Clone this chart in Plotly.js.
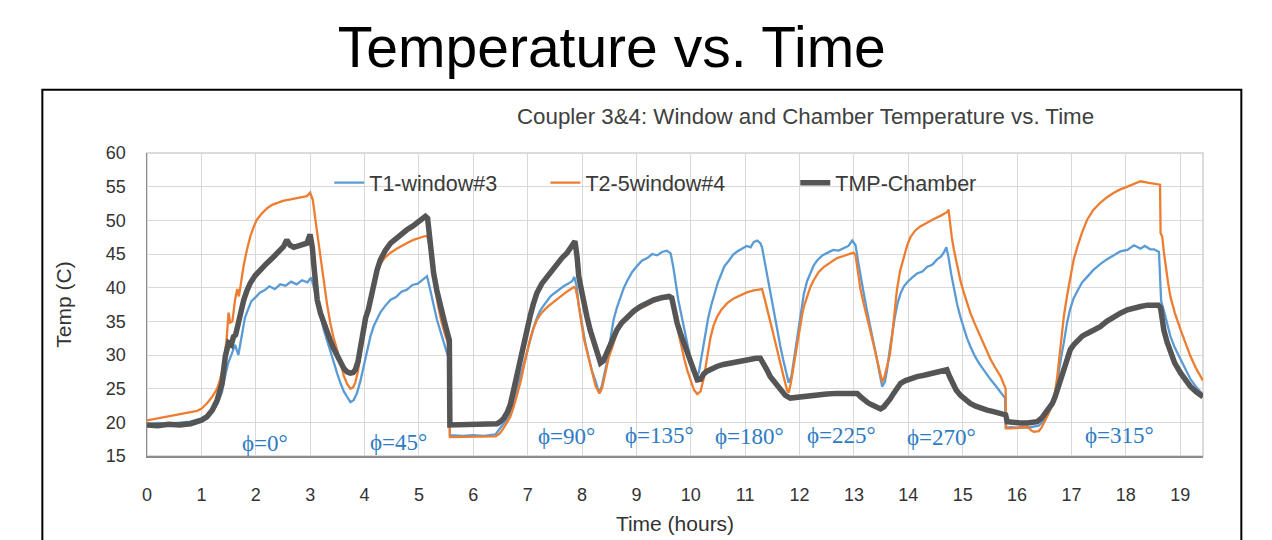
<!DOCTYPE html>
<html>
<head>
<meta charset="utf-8">
<script src="https://cdn.plot.ly/plotly-3.0.1.min.js"></script>
<style>html,body{margin:0;padding:0;background:#fff;}#chart{width:1272px;height:540px;}</style>
</head>
<body>
<div id="chart"></div>
<script>
// ---- Data ----
const seriesNames = ["T1-window#3", "T2-5window#4", "TMP-Chamber"];

const t1Time = [0,0.2,0.4,0.6,0.8,1.0,1.1,1.2,1.3,1.38,1.44,1.5,1.56,1.62,1.68,1.74,1.8,1.86,1.92,2.0,2.08,2.16,2.25,2.35,2.45,2.55,2.65,2.75,2.85,2.95,3.02,3.07,3.13,3.19,3.25,3.31,3.37,3.43,3.5,3.56,3.62,3.68,3.74,3.8,3.86,3.92,3.98,4.05,4.11,4.17,4.23,4.29,4.38,4.48,4.58,4.68,4.78,4.88,4.98,5.08,5.15,5.2,5.27,5.33,5.39,5.45,5.52,5.56,5.57,5.8,6.0,6.2,6.41,6.5,6.56,6.62,6.68,6.74,6.8,6.87,6.93,7.0,7.05,7.11,7.17,7.23,7.3,7.36,7.42,7.48,7.56,7.66,7.75,7.82,7.86,7.9,7.94,8.0,8.06,8.12,8.18,8.25,8.31,8.36,8.4,8.45,8.49,8.54,8.58,8.64,8.71,8.77,8.83,8.92,9.01,9.1,9.2,9.29,9.38,9.47,9.56,9.63,9.68,9.72,9.77,9.81,9.87,9.93,9.99,10.05,10.1,10.15,10.2,10.26,10.32,10.38,10.44,10.5,10.56,10.62,10.7,10.78,10.86,10.94,11.03,11.1,11.16,11.22,11.28,11.31,11.36,11.4,11.47,11.53,11.59,11.65,11.7,11.75,11.8,11.85,11.89,11.95,12.02,12.08,12.14,12.2,12.26,12.32,12.42,12.52,12.62,12.72,12.81,12.9,12.97,13.03,13.08,13.12,13.18,13.24,13.3,13.37,13.42,13.46,13.52,13.57,13.61,13.66,13.7,13.75,13.8,13.86,13.92,13.98,14.07,14.16,14.26,14.35,14.44,14.53,14.6,14.66,14.7,14.74,14.79,14.84,14.9,14.96,15.02,15.08,15.14,15.22,15.3,15.4,15.5,15.6,15.7,15.78,15.79,15.9,16.0,16.1,16.2,16.3,16.4,16.5,16.55,16.62,16.68,16.74,16.77,16.8,16.83,16.86,16.92,16.98,17.04,17.11,17.2,17.29,17.4,17.53,17.65,17.78,17.9,18.03,18.15,18.27,18.35,18.45,18.52,18.61,18.63,18.65,18.7,18.76,18.82,18.9,19.01,19.1,19.19,19.3,19.42];
const t1Temp = [19.7,19.9,19.8,20.0,20.1,20.6,21.0,21.5,22.8,24.5,27.0,29.0,30.2,31.5,30.0,32.8,35.5,36.8,38.0,38.6,39.3,39.6,40.2,39.8,40.5,40.3,40.9,40.5,41.1,40.8,41.5,40.0,37.8,35.7,33.8,32.2,30.5,28.8,27.2,25.8,24.6,23.8,23.0,23.3,24.3,26.0,28.0,30.8,32.8,34.3,35.4,36.3,37.3,38.2,38.6,39.4,39.7,40.4,40.6,41.2,41.7,40.0,37.2,35.3,33.7,32.0,30.2,29.4,18.1,18.0,18.1,18.0,18.2,19.2,19.8,20.4,21.5,22.9,24.8,26.9,28.9,30.8,32.6,34.1,35.5,36.6,37.4,38.1,38.7,39.1,39.6,40.2,40.6,41.0,41.6,40.2,37.4,34.3,31.8,29.7,27.7,26.1,24.5,25.3,26.8,28.6,30.8,33.2,35.2,37.0,38.7,40.0,41.0,42.3,43.2,44.0,44.4,45.0,44.8,45.3,45.5,45.1,43.0,40.7,38.2,36.6,34.2,31.8,29.6,27.8,26.5,27.5,29.8,32.7,35.5,37.5,39.2,40.8,42.0,43.2,44.0,44.9,45.4,45.8,46.2,46.0,46.8,47.0,46.6,46.0,43.8,41.7,39.0,36.5,33.8,31.2,29.3,27.5,25.9,26.8,28.9,32.6,36.4,39.1,41.0,42.3,43.3,44.0,44.8,45.2,45.6,45.5,45.9,46.2,47.0,46.3,43.8,41.7,39.2,36.6,34.3,31.8,29.5,27.8,25.3,26.0,27.8,30.8,33.0,35.5,37.6,39.2,40.2,40.8,41.5,42.1,42.4,43.1,43.4,44.2,44.6,45.3,46.0,44.5,42.0,39.7,37.5,35.6,34.0,32.5,31.3,29.9,28.8,27.6,26.5,25.5,24.5,23.6,19.2,19.3,19.2,19.3,19.2,19.3,19.5,20.3,21.0,22.0,23.3,25.5,27.6,29.3,30.5,31.8,34.8,36.9,38.4,39.5,40.8,41.6,42.6,43.5,44.2,44.8,45.4,45.6,46.3,45.8,46.2,45.7,45.7,45.3,41.0,38.0,36.6,34.6,32.8,31.1,29.3,27.7,26.4,25.2,24.1];

const t2Time = [0,0.2,0.4,0.6,0.8,0.92,1.0,1.1,1.2,1.29,1.35,1.41,1.46,1.5,1.53,1.57,1.62,1.66,1.69,1.74,1.78,1.84,1.9,1.96,2.02,2.1,2.21,2.3,2.39,2.5,2.64,2.76,2.86,2.94,3.0,3.05,3.09,3.13,3.19,3.25,3.31,3.37,3.43,3.5,3.56,3.62,3.68,3.74,3.79,3.83,3.88,3.92,3.98,4.05,4.11,4.17,4.23,4.29,4.38,4.48,4.6,4.7,4.8,4.9,5.0,5.09,5.15,5.2,5.25,5.3,5.36,5.42,5.49,5.56,5.57,5.8,6.0,6.2,6.41,6.48,6.53,6.6,6.68,6.74,6.8,6.87,6.93,6.99,7.05,7.11,7.17,7.26,7.36,7.48,7.6,7.72,7.85,7.88,7.92,7.97,8.03,8.09,8.15,8.2,8.25,8.32,8.37,8.4,8.45,8.49,8.55,8.64,8.73,8.83,8.95,9.07,9.2,9.32,9.45,9.6,9.64,9.7,9.76,9.82,9.88,9.94,10.0,10.06,10.12,10.18,10.24,10.3,10.36,10.42,10.48,10.56,10.67,10.79,10.91,11.03,11.16,11.28,11.31,11.36,11.4,11.47,11.53,11.59,11.65,11.71,11.77,11.8,11.84,11.88,11.93,11.98,12.04,12.08,12.14,12.2,12.26,12.35,12.45,12.57,12.69,12.81,12.93,12.99,13.03,13.08,13.12,13.18,13.24,13.3,13.37,13.42,13.46,13.52,13.56,13.61,13.66,13.7,13.75,13.79,13.85,13.92,13.98,14.04,14.13,14.22,14.35,14.47,14.6,14.71,14.74,14.77,14.8,14.84,14.9,14.96,15.02,15.08,15.14,15.22,15.33,15.42,15.51,15.6,15.7,15.79,15.8,15.9,16.0,16.1,16.2,16.26,16.31,16.4,16.45,16.52,16.58,16.65,16.7,16.74,16.77,16.8,16.83,16.86,16.92,16.98,17.04,17.11,17.2,17.29,17.4,17.53,17.65,17.78,17.9,18.03,18.15,18.27,18.4,18.52,18.63,18.64,18.67,18.7,18.73,18.78,18.82,18.9,19.01,19.1,19.19,19.3,19.42];
const t2Temp = [20.3,20.6,20.9,21.2,21.5,21.7,22.0,22.8,23.8,25.0,26.5,28.7,32.0,36.3,34.8,35.0,38.2,39.8,38.7,41.5,43.4,45.7,47.6,49.0,50.1,50.9,51.8,52.3,52.6,52.9,53.1,53.3,53.4,53.6,54.1,53.0,50.5,48.1,44.3,40.7,37.6,34.8,32.6,30.7,28.6,26.9,25.7,25.0,25.2,25.9,27.6,29.8,33.0,35.8,38.5,40.6,42.2,43.5,44.5,45.2,45.8,46.3,46.7,47.1,47.4,47.6,47.7,46.2,43.0,39.8,37.0,34.8,32.8,31.2,17.8,17.8,17.8,17.8,17.9,18.3,18.8,19.7,20.8,22.2,23.8,26.0,28.3,30.6,32.5,34.0,35.2,36.3,37.1,37.9,38.7,39.4,40.1,40.0,38.4,35.5,32.6,30.6,28.8,27.0,25.4,24.3,25.1,26.2,28.0,29.6,31.0,33.3,34.8,35.6,36.4,36.9,37.5,37.9,38.3,38.5,38.2,35.9,33.6,31.2,29.4,27.6,26.2,24.8,24.2,24.6,26.6,29.8,32.5,34.4,35.6,36.7,37.7,38.4,38.9,39.3,39.6,39.8,39.8,38.3,36.8,34.7,32.7,30.6,28.8,26.7,24.8,24.4,25.8,27.9,30.0,32.8,35.6,37.2,38.8,40.1,41.1,42.3,43.1,43.8,44.4,44.7,45.0,45.2,44.8,42.2,39.8,37.6,35.7,33.5,31.3,29.5,27.9,26.0,26.7,28.3,30.0,32.6,36.2,39.6,42.5,44.6,46.3,47.5,48.5,49.1,49.7,50.2,50.7,51.2,51.6,49.5,47.5,45.6,43.0,41.0,39.3,37.8,36.3,34.7,32.6,30.9,29.4,28.1,26.8,25.0,19.1,19.1,19.2,19.2,19.3,18.8,18.6,18.7,19.2,20.3,21.3,22.8,24.5,26.8,29.0,31.3,33.5,35.7,38.8,41.7,44.1,46.1,48.3,50.1,51.5,52.6,53.4,54.1,54.6,55.0,55.4,55.8,55.6,55.5,55.3,48.1,47.6,45.3,43.2,40.6,38.7,36.3,33.7,31.6,29.8,27.9,26.2];

const chTime = [0,0.2,0.4,0.6,0.8,0.92,1.0,1.1,1.2,1.29,1.34,1.38,1.44,1.5,1.55,1.59,1.63,1.66,1.72,1.78,1.84,1.9,1.99,2.08,2.2,2.33,2.42,2.51,2.57,2.63,2.7,2.76,2.85,2.94,3.0,3.04,3.07,3.13,3.19,3.25,3.31,3.37,3.43,3.5,3.56,3.62,3.68,3.74,3.79,3.83,3.88,3.92,3.98,4.02,4.07,4.12,4.17,4.23,4.29,4.38,4.48,4.58,4.68,4.78,4.88,4.97,5.05,5.12,5.16,5.2,5.24,5.27,5.33,5.39,5.45,5.5,5.56,5.57,5.8,6.0,6.2,6.44,6.5,6.56,6.62,6.68,6.74,6.8,6.87,6.93,6.99,7.05,7.11,7.17,7.26,7.36,7.45,7.54,7.63,7.72,7.8,7.85,7.87,7.91,7.94,8.0,8.03,8.09,8.15,8.22,8.28,8.34,8.39,8.43,8.47,8.52,8.58,8.64,8.73,8.83,8.95,9.07,9.2,9.32,9.46,9.6,9.65,9.7,9.75,9.81,9.87,9.93,10.0,10.06,10.12,10.18,10.24,10.3,10.39,10.48,10.6,10.73,10.85,10.97,11.1,11.2,11.28,11.34,11.4,11.46,11.55,11.65,11.74,11.83,11.92,12.02,12.17,12.32,12.5,12.69,12.88,13.06,13.12,13.18,13.26,13.33,13.41,13.49,13.55,13.61,13.67,13.73,13.8,13.86,13.95,14.04,14.16,14.29,14.41,14.53,14.63,14.71,14.76,14.81,14.88,14.96,15.05,15.14,15.24,15.33,15.45,15.57,15.7,15.79,15.82,15.94,16.06,16.19,16.3,16.37,16.45,16.52,16.58,16.65,16.7,16.74,16.8,16.85,16.89,16.94,16.98,17.05,17.11,17.2,17.29,17.4,17.53,17.65,17.78,17.9,18.03,18.15,18.27,18.4,18.52,18.6,18.64,18.67,18.7,18.76,18.82,18.9,19.01,19.1,19.19,19.3,19.42];
const chTemp = [19.6,19.5,19.7,19.6,19.8,20.1,20.3,20.8,21.8,23.3,24.5,25.8,29.8,31.8,31.5,32.7,33.0,34.2,36.3,38.2,39.6,40.7,41.8,42.7,43.6,44.6,45.3,46.1,47.1,46.3,46.0,46.1,46.3,46.6,47.9,46.0,43.2,38.2,36.2,34.7,33.3,32.2,31.0,29.8,28.8,28.0,27.5,27.3,27.4,27.8,29.0,30.8,34.2,35.5,36.7,38.8,40.7,42.6,44.1,45.5,46.6,47.3,48.0,48.6,49.1,49.6,50.0,50.6,50.3,46.6,43.9,42.2,39.6,37.2,35.6,34.0,32.2,19.6,19.7,19.6,19.7,19.8,20.1,20.6,21.4,22.6,24.7,27.0,29.7,32.0,34.1,35.9,37.7,39.2,40.6,41.7,42.7,43.6,44.4,45.1,45.9,46.6,46.9,44.5,41.7,39.2,37.7,35.7,33.7,31.9,30.3,28.8,29.1,29.8,30.8,31.8,32.8,33.7,34.8,35.7,36.5,37.2,37.8,38.2,38.5,38.7,38.5,36.5,34.7,33.2,31.8,30.3,28.8,27.5,26.3,26.4,27.2,27.6,28.0,28.3,28.6,28.8,29.0,29.3,29.4,29.5,29.5,28.8,27.8,26.8,25.8,24.8,24.0,23.6,23.7,23.8,23.9,24.0,24.2,24.3,24.3,24.3,23.8,23.3,22.9,22.6,22.3,22.0,22.3,22.8,23.5,24.3,25.1,25.8,26.2,26.5,26.8,27.0,27.2,27.4,27.6,27.8,26.8,25.8,24.8,24.0,23.3,22.8,22.4,22.1,21.8,21.6,21.3,21.1,20.1,19.9,19.9,19.9,20.0,20.1,20.6,21.3,21.9,22.8,23.8,24.8,26.3,27.8,28.8,30.0,30.8,31.6,32.2,32.8,33.2,33.7,34.2,35.0,35.7,36.2,36.7,37.0,37.2,37.4,37.5,37.4,37.0,35.3,33.7,31.9,30.3,28.8,27.3,26.3,25.3,24.5,23.8];

// phase annotations
const phaseLabels = ["ϕ=0°","ϕ=45°","ϕ=90°","ϕ=135°","ϕ=180°","ϕ=225°","ϕ=270°","ϕ=315°"];
const phaseX = [2.17, 4.63, 7.72, 9.42, 11.08, 12.77, 14.62, 17.88];
const phaseY = [16.9, 17.0, 17.9, 18.1, 17.9, 18.1, 17.7, 18.1];

const xTicks = [0,1,2,3,4,5,6,7,8,9,10,11,12,13,14,15,16,17,18,19];
const yTicks = [15,20,25,30,35,40,45,50,55,60];

// ---- Chart ----
const colors = ["#5B9BD5", "#ED7D31", "#555555"];
const widths = [2.3, 2.3, 5.5];
const xs = [t1Time, t2Time, chTime];
const ys = [t1Temp, t2Temp, chTemp];
const legendIds = ["legend", "legend2", "legend3"];

const traces = seriesNames.map((n, i) => ({
  type: "scatter", mode: "lines", name: n,
  x: xs[i], y: ys[i],
  line: {color: colors[i], width: widths[i]},
  legend: legendIds[i]
}));

const legendFont = {family: "Liberation Sans, Arial, sans-serif", size: 21.5, color: "#3a3a3a"};
function legendAt(x) {
  return {x: x, y: 0.902, xanchor: "left", yanchor: "middle", orientation: "h",
          bgcolor: "rgba(0,0,0,0)", borderwidth: 0, font: legendFont,
          itemwidth: 30, tracegroupgap: 0};
}

const annotations = phaseLabels.map((s, i) => ({
  x: phaseX[i], y: phaseY[i], xref: "x", yref: "y", text: s, showarrow: false,
  font: {family: "Liberation Serif, DejaVu Serif, serif", size: 23, color: "#2E7BC4"},
  xanchor: "center", yanchor: "middle"
}));
annotations.push({
  x: 0.6234, y: 1.12, xref: "paper", yref: "paper", showarrow: false,
  text: "Coupler 3&4: Window and Chamber Temperature vs. Time",
  font: {family: "Liberation Sans, Arial, sans-serif", size: 22.3, color: "#404040"},
  xanchor: "center", yanchor: "middle"
});

const layout = {
  width: 1272, height: 540,
  paper_bgcolor: "#ffffff", plot_bgcolor: "#ffffff",
  margin: {l: 146.7, r: 69.3, t: 153.3, b: 84, autoexpand: false},
  title: {
    text: "Temperature vs. Time",
    font: {family: "Liberation Sans, Arial, sans-serif", size: 57, color: "#000000"},
    x: 0.481, xref: "container", xanchor: "center",
    y: 0.913, yref: "container", yanchor: "middle"
  },
  showlegend: true,
  legend: legendAt(0.1726),
  legend2: legendAt(0.3773),
  legend3: legendAt(0.6139),
  xaxis: {
    range: [0, 19.42], tickvals: xTicks, ticktext: xTicks.map(String),
    showgrid: true, gridcolor: "#d9d9d9", gridwidth: 1,
    showline: true, linecolor: "#8c8c8c", linewidth: 1.5,
    zeroline: false, ticks: "", ticklabelstandoff: 22,
    tickfont: {family: "Liberation Sans, Arial, sans-serif", size: 18, color: "#333333"},
    title: {text: "Time (hours)", standoff: 12,
      font: {family: "Liberation Sans, Arial, sans-serif", size: 21, color: "#333333"}},
    automargin: false, fixedrange: true
  },
  yaxis: {
    range: [15, 60], tickvals: yTicks, ticktext: yTicks.map(String),
    showgrid: true, gridcolor: "#d9d9d9", gridwidth: 1,
    showline: true, linecolor: "#8c8c8c", linewidth: 1.5,
    zeroline: false, ticks: "", ticklabelstandoff: 16,
    tickfont: {family: "Liberation Sans, Arial, sans-serif", size: 18, color: "#333333"},
    title: {text: "Temp (C)", standoff: 28,
      font: {family: "Liberation Sans, Arial, sans-serif", size: 21, color: "#333333"}},
    automargin: false, fixedrange: true
  },
  shapes: [
    {type: "rect", xref: "paper", yref: "paper", x0: 0, x1: 1, y0: 0, y1: 1,
     line: {color: "#cfcfcf", width: 1.5}, layer: "below"},
    {type: "rect", xref: "paper", yref: "paper", x0: -0.0991, x1: 1.0363, y0: -0.35, y1: 1.2091,
     line: {color: "#000000", width: 2}, fillcolor: "rgba(0,0,0,0)", layer: "above"}
  ],
  annotations: annotations
};

Plotly.newPlot("chart", traces, layout, {staticPlot: true, displayModeBar: false});
</script>
</body>
</html>
